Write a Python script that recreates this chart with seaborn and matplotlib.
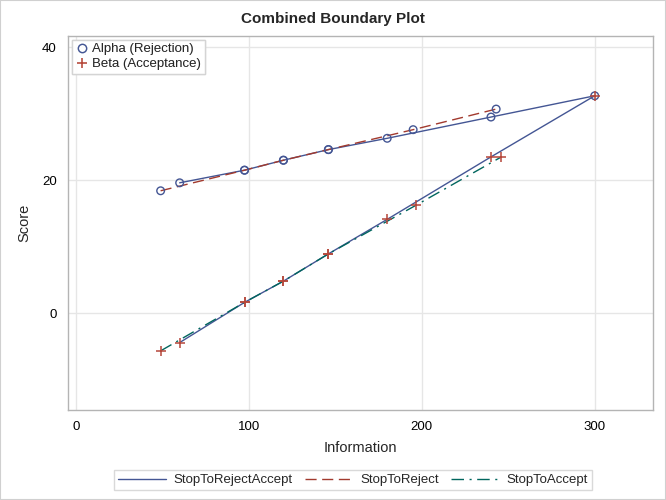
import numpy as np
import pandas as pd
import seaborn as sns
import matplotlib.pyplot as plt
from matplotlib.lines import Line2D

# StopToRejectAccept: upper (alpha) and lower (beta) boundaries
ra_info = [60, 97.5, 120, 146, 180, 240, 300]
ra_upper = [19.6, 21.5, 23.0, 24.6, 26.3, 29.5, 32.7]
ra_lower = [-4.45, 1.6, 4.8, 8.9, 14.1, 23.5, 32.7]

# StopToReject: upper boundary only
rej_info = [49, 97.5, 120, 146, 195, 243]
rej_upper = [18.4, 21.5, 23.0, 24.6, 27.6, 30.7]

# StopToAccept: lower boundary only
acc_info = [49, 97.5, 120, 146, 196.5, 246]
acc_lower = [-5.7, 1.6, 4.8, 8.9, 16.2, 23.5]

series_names = ["StopToRejectAccept", "StopToReject", "StopToAccept"]
boundary_names = ["Alpha (Rejection)", "Beta (Acceptance)"]

x_ticks = [0, 100, 200, 300]
y_ticks = [0, 20, 40]

BLUE = "#445694"
RED = "#A23A2E"
TEAL = "#01665E"

rows = []
for x, y in zip(ra_info, ra_upper):
    rows.append({"series": series_names[0], "boundary": "alpha", "Information": x, "Score": y})
for x, y in zip(ra_info, ra_lower):
    rows.append({"series": series_names[0], "boundary": "beta", "Information": x, "Score": y})
for x, y in zip(rej_info, rej_upper):
    rows.append({"series": series_names[1], "boundary": "alpha", "Information": x, "Score": y})
for x, y in zip(acc_info, acc_lower):
    rows.append({"series": series_names[2], "boundary": "beta", "Information": x, "Score": y})
df = pd.DataFrame(rows)

sns.set_style("white")
plt.rcParams["font.family"] = ["Liberation Sans", "DejaVu Sans"]

fig = plt.figure(figsize=(6.66, 5), dpi=100)
ax = fig.add_axes([0.102, 0.18, 0.878, 0.748])

line_styles = {
    series_names[0]: dict(color=BLUE, linestyle="-"),
    series_names[1]: dict(color=RED, linestyle=(0, (8, 4))),
    series_names[2]: dict(color=TEAL, linestyle=(0, (9, 4, 1.5, 4))),
}

for (s, b), grp in df.groupby(["series", "boundary"], sort=False):
    sns.lineplot(data=grp, x="Information", y="Score", ax=ax, sort=False,
                 estimator=None, linewidth=1.0, zorder=2, **line_styles[s])

alpha_df = df[df["boundary"] == "alpha"]
beta_df = df[df["boundary"] == "beta"]
ax.scatter(alpha_df["Information"], alpha_df["Score"], s=30, marker="o",
           facecolors="none", edgecolors=BLUE, linewidths=1.0, zorder=3)
sns.scatterplot(data=beta_df, x="Information", y="Score", ax=ax, marker="+",
                color="#B5473A", s=45, linewidth=1.1, zorder=3)

ax.set_xlim(-4.6, 333.5)
ax.set_ylim(-14.6, 41.7)
ax.set_xticks(x_ticks)
ax.set_yticks(y_ticks)
ax.grid(True, color="#E6E6E6", linewidth=1.0)
ax.set_axisbelow(True)
for sp in ax.spines.values():
    sp.set_color("#B4B4B4")
    sp.set_linewidth(1.0)
ax.tick_params(axis="both", direction="out", length=5, width=1, color="#B4B4B4",
               labelsize=9.5, labelcolor="black", pad=3)
ax.set_xlabel("Information", fontsize=10.5, labelpad=6)
ax.set_ylabel("Score", fontsize=10.5, labelpad=8)
fig.suptitle("Combined Boundary Plot", fontsize=11, fontweight="bold", y=0.975)

marker_handles = [
    Line2D([], [], linestyle="none", marker="o", markersize=6, markerfacecolor="none",
           markeredgecolor=BLUE, markeredgewidth=1.0),
    Line2D([], [], linestyle="none", marker="+", markersize=7, color="#B5473A", markeredgewidth=1.1),
]
leg1 = ax.legend(marker_handles, boundary_names, loc="upper left", fontsize=9.5,
                 frameon=True, fancybox=False, borderpad=0.25, handletextpad=0.3,
                 labelspacing=0.2, borderaxespad=0.3, handlelength=1.0)
leg1.get_frame().set_edgecolor("#D0D0D0")
leg1.get_frame().set_linewidth(1.0)
ax.add_artist(leg1)

line_handles = [Line2D([], [], linewidth=1.0, **line_styles[s]) for s in series_names]
leg2 = fig.legend(line_handles, series_names, loc="center", bbox_to_anchor=(0.53, 0.040),
                  ncol=3, fontsize=9.5, frameon=True, fancybox=False, borderpad=0.3,
                  handlelength=3.6, handletextpad=0.6, columnspacing=0.9)
leg2.get_frame().set_edgecolor("#D0D0D0")
leg2.get_frame().set_linewidth(1.0)

fig.patches.append(plt.Rectangle((0, 0), 1, 1, transform=fig.transFigure, fill=False,
                                 edgecolor="#D0D0D0", linewidth=1.5))

fig.savefig("out.png", dpi=100)
